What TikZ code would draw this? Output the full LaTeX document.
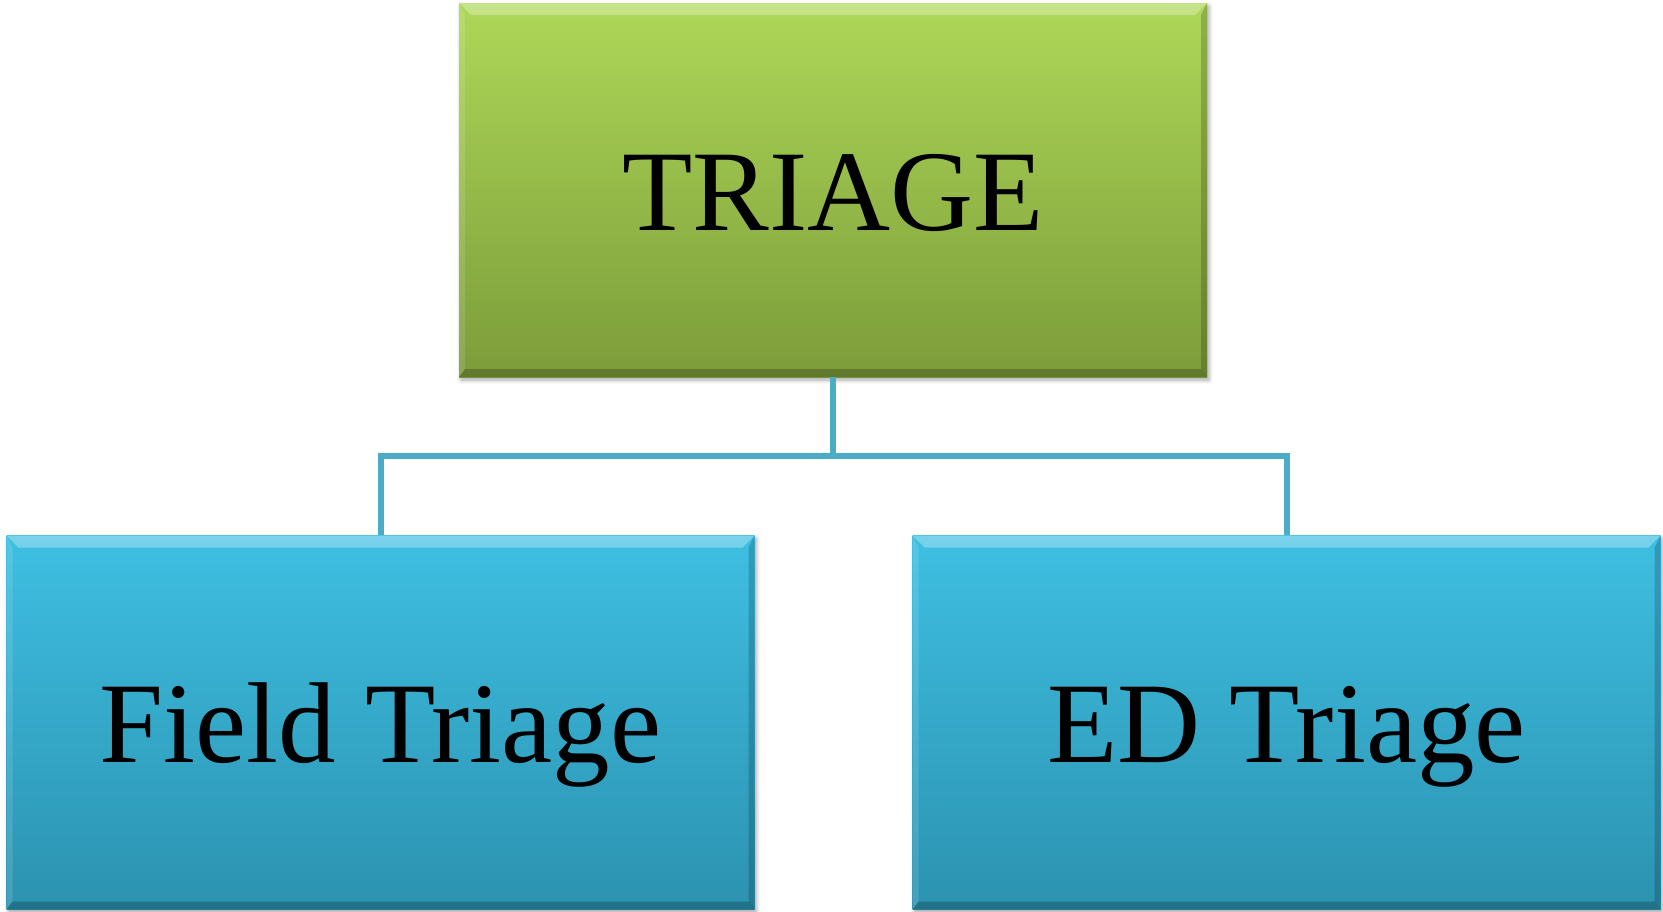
\documentclass[tikz,border=0pt]{standalone}
\usepackage{fontspec}
\setmainfont{Liberation Serif}
\usetikzlibrary{shadows.blur}

\definecolor{greenTop}{RGB}{174,216,88}
\definecolor{greenBot}{RGB}{124,156,58}
\definecolor{blueTop}{RGB}{62,191,226}
\definecolor{blueBot}{RGB}{44,146,176}
\definecolor{linkBlue}{RGB}{75,172,198}

\tikzset{
  bevel/.style={path picture={
    % light upper bevel
    \fill[white,opacity=0.3]
      (path picture bounding box.north west) -- (path picture bounding box.north east)
      -- ([xshift=-12pt,yshift=-12pt]path picture bounding box.north east)
      -- ([xshift=12pt,yshift=-12pt]path picture bounding box.north west) -- cycle;
    % faint left bevel
    \fill[white,opacity=0.12]
      (path picture bounding box.north west) -- ([xshift=6pt,yshift=-12pt]path picture bounding box.north west)
      -- ([xshift=6pt,yshift=8pt]path picture bounding box.south west)
      -- (path picture bounding box.south west) -- cycle;
    % dark lower bevel
    \fill[black,opacity=0.22]
      (path picture bounding box.south west) -- (path picture bounding box.south east)
      -- ([xshift=-6pt,yshift=8pt]path picture bounding box.south east)
      -- ([xshift=6pt,yshift=8pt]path picture bounding box.south west) -- cycle;
    % dark right bevel
    \fill[black,opacity=0.18]
      (path picture bounding box.north east) -- (path picture bounding box.south east)
      -- ([xshift=-6pt,yshift=8pt]path picture bounding box.south east)
      -- ([xshift=-6pt,yshift=-12pt]path picture bounding box.north east) -- cycle;
  }},
  card/.style={rectangle, inner sep=0pt, minimum width=748pt, minimum height=374pt,
    text height=80pt, text depth=0pt,
    font=\fontsize{115}{125}\selectfont, text=black, bevel,
    blur shadow={shadow xshift=2pt, shadow yshift=-3pt, shadow blur radius=4pt, shadow opacity=35}},
  headcard/.style={card, top color=greenTop, bottom color=greenBot},
  subcard/.style={card, top color=blueTop, bottom color=blueBot},
  link/.style={draw=linkBlue, line width=6pt}
}

\begin{document}
\begin{tikzpicture}[x=1pt,y=-1pt]
  \useasboundingbox (0,0) rectangle (1663,911);

  \node[headcard] (triage) at (833,190) {TRIAGE};
  \node[subcard] (field) at (380.5,722.5) {Field Triage};
  \node[subcard] (ed) at (1286.5,722.5) {ED Triage};

  \coordinate (junction) at (833,456);

  \draw[link] (triage.south) -- (junction);
  \draw[link] (field.north) |- (junction) -| (ed.north);
\end{tikzpicture}
\end{document}
